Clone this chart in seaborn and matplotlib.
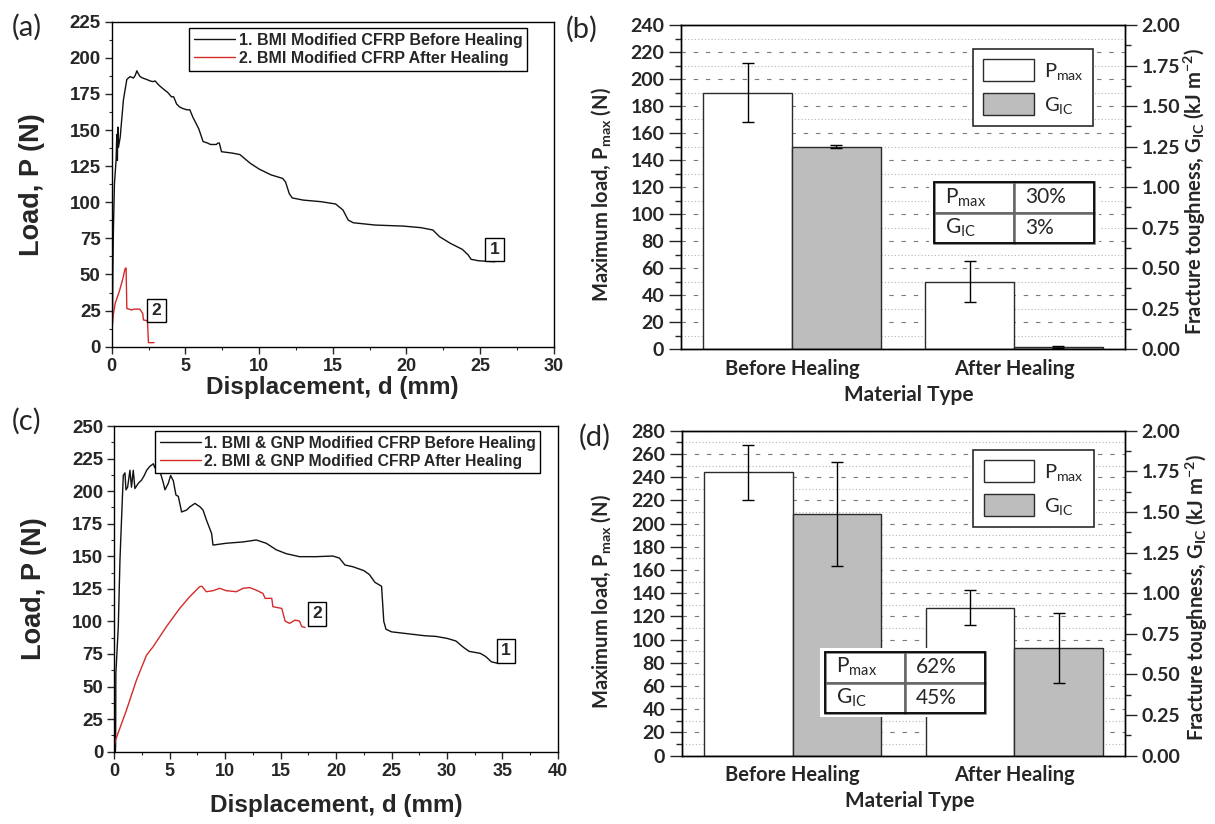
import numpy as np
import pandas as pd
import matplotlib
matplotlib.use("Agg")
import matplotlib.pyplot as plt
import seaborn as sns
from matplotlib.ticker import MultipleLocator, FormatStrFormatter
from matplotlib.patches import Rectangle, Patch
from matplotlib.font_manager import FontProperties

# ---------------- data ----------------
# (a) BMI modified CFRP, load-displacement (d [mm], P [N])
a_before = [(0, 0), (0.05, 20), (0.07, 51), (0.11, 81), (0.18, 113), (0.29, 129), (0.34, 147),
            (0.38, 129), (0.41, 152), (0.45, 138), (0.57, 145), (0.79, 171), (1.02, 185),
            (1.24, 187), (1.47, 186), (1.6, 188), (1.7, 191), (1.8, 189), (1.92, 187), (2.1, 186),
            (2.37, 185), (2.6, 184), (2.8, 183.5), (2.94, 184), (3.2, 181), (3.55, 178), (3.8, 176),
            (4.05, 173), (4.2, 173), (4.4, 168), (4.6, 166), (4.8, 165), (5.1, 164), (5.3, 164),
            (5.5, 159), (5.9, 151), (6.2, 142), (6.5, 141), (6.7, 140), (7.1, 140), (7.2, 141),
            (7.3, 141), (7.45, 135), (8.2, 134), (8.7, 133), (9.4, 127), (10.0, 123), (10.8, 119),
            (11.6, 116.5), (11.8, 114), (12.05, 106), (12.25, 103), (13.0, 101.5), (14.2, 100.4),
            (15.2, 98.8), (15.7, 94.6), (16.05, 87.7), (16.4, 85.8), (17.9, 84.2), (19.8, 83.5),
            (21.0, 82.4), (21.8, 80.8), (22.25, 76.2), (23.0, 71.5), (23.8, 67.4), (24.2, 63.5),
            (24.4, 60.5), (24.9, 59.5), (26.0, 58.8)]
a_after = [(0, 11.5), (0.1, 22), (0.23, 30), (0.5, 38), (0.75, 47), (0.9, 54), (0.97, 54.5),
           (1.02, 26.5), (1.36, 25.4), (1.5, 26), (1.9, 26), (2.1, 23), (2.15, 18.5), (2.42, 18),
           (2.49, 2.8), (2.87, 2.8)]
a_labels = ["1. BMI Modified CFRP Before Healing", "2. BMI Modified CFRP After Healing"]

# (c) BMI & GNP modified CFRP
c_before = [(0, 0), (0.1, 0), (0.12, 5), (0.14, 60), (0.36, 96), (0.51, 147), (0.66, 180),
            (0.81, 212), (0.96, 214), (1.05, 201), (1.2, 203), (1.41, 216), (1.55, 203),
            (1.71, 216), (1.86, 202), (2.16, 206), (2.46, 208.5), (2.7, 212), (2.92, 216),
            (3.2, 219), (3.52, 221), (3.65, 218), (3.8, 222), (4.12, 215), (4.4, 207), (4.57, 201),
            (4.87, 206), (5.08, 212), (5.32, 208), (5.56, 197), (5.77, 196), (6.07, 184),
            (6.52, 185.5), (6.82, 188), (7.27, 190.6), (7.72, 188), (8.0, 185.5), (8.3, 178),
            (8.77, 167.6), (8.9, 158.6), (10.1, 160), (11.6, 161), (12.8, 162.5), (13.7, 160),
            (14.6, 155), (15.5, 152), (16.7, 149.7), (18.2, 149.7), (19.7, 150.2), (20.3, 148.6),
            (20.8, 143.3), (21.5, 142), (22.5, 139), (23.0, 136), (23.5, 130), (24.1, 127),
            (24.3, 100), (24.5, 94), (25.0, 92), (26.0, 91), (28.0, 89), (29.0, 88.5), (30.0, 87),
            (30.8, 85), (31.5, 80), (32.0, 77), (33.0, 75.5), (33.5, 73), (34.0, 69), (34.5, 68),
            (35.0, 68)]
c_after = [(0, 4), (0.06, 7.7), (1.1, 32), (2.0, 55), (2.9, 74), (3.5, 80.6), (4.7, 96),
           (5.9, 110), (6.8, 119), (7.7, 126.7), (7.9, 127), (8.3, 122.8), (8.9, 123.6),
           (9.5, 125.4), (10.1, 123.6), (11.0, 122.8), (11.6, 125.4), (12.2, 126), (12.8, 124),
           (13.4, 121.5), (13.6, 117.7), (14.2, 117.7), (14.3, 111.3), (15.1, 110), (15.4, 100.3),
           (15.8, 98.5), (16.3, 101), (16.7, 100.3), (16.9, 96), (17.2, 95.4)]
c_labels = ["1. BMI & GNP Modified CFRP Before Healing", "2. BMI & GNP Modified CFRP After Healing"]

# bar charts
categories = ["Before Healing", "After Healing"]
b_pmax = [190, 50]
b_pmax_err = [21.5, 15.3]
b_gic = [1.25, 0.015]
b_gic_err = [0.01, 0.006]
b_recovery = ["30%", "3%"]

d_pmax = [244, 127.5]
d_pmax_err = [24, 15]
d_gic = [1.49, 0.665]
d_gic_err = [0.32, 0.215]
d_recovery = ["62%", "45%"]

# ---------------- style ----------------
sns.set_style("ticks")
plt.rcParams["font.family"] = ["Liberation Sans", "DejaVu Sans"]
plt.rcParams["mathtext.default"] = "regular"
plt.rcParams["axes.edgecolor"] = "black"
plt.rcParams["axes.linewidth"] = 1.0

W, H = 1215, 824
fig = plt.figure(figsize=(W / 100, H / 100), dpi=100)


def rect_px(left, top, right, bottom):
    return [left / W, 1 - bottom / H, (right - left) / W, (bottom - top) / H]


BLACK = "#111111"
RED = "#d42a2a"


def line_panel(rect, before, after, labels, xmax, ymax, ystep, box1, box2,
               leg_anchor, leg_fs, xlabel_y, ylabel_x):
    ax = fig.add_axes(rect)
    df = pd.concat([
        pd.DataFrame(before, columns=["d", "P"]).assign(series=labels[0]),
        pd.DataFrame(after, columns=["d", "P"]).assign(series=labels[1]),
    ], ignore_index=True)
    sns.lineplot(data=df, x="d", y="P", hue="series", hue_order=labels,
                 palette=[BLACK, RED], sort=False, estimator=None,
                 linewidth=1.0, legend=False, ax=ax)
    ax.set_xlim(0, xmax)
    ax.set_ylim(0, ymax)
    xt = np.arange(0, xmax + 0.1, 5)
    yt = np.arange(0, ymax + 0.1, ystep)
    ax.set_xticks(xt)
    ax.set_xticklabels([str(int(v)) for v in xt], fontweight="bold", fontsize=13)
    ax.set_yticks(yt)
    ax.set_yticklabels([str(int(v)) for v in yt], fontweight="bold", fontsize=13.5)
    ax.xaxis.set_minor_locator(MultipleLocator(2.5))
    ax.yaxis.set_minor_locator(MultipleLocator(ystep / 2))
    ax.tick_params(which="major", direction="out", length=5, width=1, pad=3)
    ax.tick_params(which="minor", direction="out", length=2.5, width=0.8)
    for s in ax.spines.values():
        s.set_visible(True)
        s.set_linewidth(1.0)
    ax.set_xlabel("Displacement, d (mm)", fontweight="bold", fontsize=17.5)
    ax.set_ylabel("Load, P (N)", fontweight="bold", fontsize=19.5)
    ax.xaxis.label.set_va("center")
    ax.yaxis.label.set_va("center")
    ax.xaxis.set_label_coords(0.5, xlabel_y)
    ax.yaxis.set_label_coords(ylabel_x, 0.5)
    leg = ax.legend(ax.lines[:2], labels, loc="upper left", bbox_to_anchor=leg_anchor,
                    frameon=True, fancybox=False, edgecolor="black", framealpha=1,
                    borderaxespad=0, prop=FontProperties(family="Liberation Sans",
                                                         weight="bold", size=leg_fs),
                    handlelength=2.6, handletextpad=0.2, borderpad=0.3, labelspacing=0.2)
    leg.get_frame().set_linewidth(1.0)
    for (x, y, t) in (box1 + ("1",), box2 + ("2",)):
        ax.text(x, y, t, ha="center", va="center", fontsize=12.5, fontweight="bold",
                bbox=dict(boxstyle="square,pad=0.25", fc="white", ec="black", lw=1.0))
    return ax


def bar_panel(rect, pmax, pmax_err, gic, gic_err, recovery, ymax, leg_anchor,
              table_box, label_xy):
    ax = fig.add_axes(rect)
    scale = ymax / 2.0  # right axis spans 0..2 kJ/m^2 on the same height
    df = pd.DataFrame({
        "Material": categories * 2,
        "Quantity": ["Pmax"] * 2 + ["GIC"] * 2,
        "Value": list(pmax) + [g * scale for g in gic],
    })
    sns.barplot(data=df, x="Material", y="Value", hue="Quantity", hue_order=["Pmax", "GIC"],
                order=categories, palette={"Pmax": "white", "GIC": "#bdbdbd"}, saturation=1,
                edgecolor="#2b2b2b", linewidth=1.0, width=0.8, errorbar=None, legend=False,
                ax=ax)
    bars = sorted(ax.patches, key=lambda p: p.get_x())
    errs = [pmax_err[0], gic_err[0] * scale, pmax_err[1], gic_err[1] * scale]
    for p, e in zip(bars, errs):
        ax.errorbar(p.get_x() + p.get_width() / 2, p.get_height(), yerr=e, fmt="none",
                    ecolor="black", elinewidth=1.0, capsize=4, capthick=1.0, zorder=5)
    ax.set_xlim(-0.5, 1.5)
    ax.set_ylim(0, ymax)
    ax.yaxis.set_major_locator(MultipleLocator(20))
    ax.yaxis.set_minor_locator(MultipleLocator(10))
    ax.set_axisbelow(True)
    ax.grid(which="major", axis="y", linestyle=(0, (4, 7)), color="#7a7a7a", linewidth=0.8)
    ax.grid(which="minor", axis="y", linestyle=(0, (1, 2)), color="#b5b5b5", linewidth=0.8)
    ax.grid(which="both", axis="x", visible=False)
    ax.tick_params(axis="y", which="major", direction="out", length=8.5, width=1, labelsize=14)
    ax.tick_params(axis="y", which="minor", direction="out", length=4.3, width=1)
    ax.tick_params(axis="x", length=0, labelsize=14.5, pad=7)
    for lab in ax.get_yticklabels() + ax.get_xticklabels():
        lab.set_fontfamily("Lato")
        lab.set_fontweight("bold")
    for s in ax.spines.values():
        s.set_visible(True)
        s.set_linewidth(1.0)
    ax.set_xlabel("Material Type", fontfamily="Lato", fontweight="bold", fontsize=15)
    ax.set_ylabel(r"Maximum load, P$_{\mathregular{max}}$ (N)", fontfamily="Lato",
                  fontweight="bold", fontsize=14.5)
    ax.xaxis.label.set_va("center")
    ax.yaxis.label.set_va("center")
    ax.xaxis.set_label_coords(0.514, label_xy[0])
    ax.yaxis.set_label_coords(label_xy[1], 0.475)

    ax2 = ax.twinx()
    ax2.set_ylim(0, 2.0)
    ax2.yaxis.set_major_locator(MultipleLocator(0.25))
    ax2.yaxis.set_minor_locator(MultipleLocator(0.125))
    ax2.yaxis.set_major_formatter(FormatStrFormatter("%.2f"))
    ax2.tick_params(axis="y", which="major", direction="out", length=8.5, width=1, labelsize=14)
    ax2.tick_params(axis="y", which="minor", direction="out", length=4.3, width=1)
    ax2.grid(False)
    for lab in ax2.get_yticklabels():
        lab.set_fontfamily("Lato")
        lab.set_fontweight("bold")
    ax2.set_ylabel(r"Fracture toughness, G$_{\mathregular{IC}}$ (kJ m$^{\mathregular{-2}}$)",
                   fontfamily="Lato", fontweight="bold", fontsize=14.5, rotation=90)
    ax2.yaxis.label.set_va("center")
    ax2.yaxis.label.set_ha("center")
    ax2.yaxis.set_label_coords(label_xy[2], 0.485)

    handles = [Patch(facecolor="white", edgecolor="#2b2b2b", linewidth=1.0),
               Patch(facecolor="#bdbdbd", edgecolor="#2b2b2b", linewidth=1.0)]
    leg = ax.legend(handles, [r"P$_{\mathregular{max}}$", r"G$_{\mathregular{IC}}$"],
                    loc="upper left", bbox_to_anchor=leg_anchor, frameon=True, fancybox=False,
                    edgecolor="#2b2b2b", framealpha=1, borderaxespad=0,
                    prop=FontProperties(family="Lato", size=14.5),
                    handlelength=2.5, handleheight=1.3, handletextpad=0.5,
                    borderpad=0.5, labelspacing=0.55)
    leg.get_frame().set_linewidth(1.2)
    leg.set_zorder(20)

    x0, y0, w, h = table_box
    ax.add_patch(Rectangle((x0 - 0.012, y0 - 0.012), w + 0.024, h + 0.024,
                           transform=ax.transAxes, facecolor="white", edgecolor="none",
                           zorder=9))
    rows = [[r"P$_{\mathregular{max}}$", recovery[0]], [r"G$_{\mathregular{IC}}$", recovery[1]]]
    tbl = ax.table(cellText=rows, cellLoc="left", bbox=[x0, y0, w, h], zorder=10)
    tbl.auto_set_font_size(False)
    for (r, c), cell in tbl.get_celld().items():
        cell.set_edgecolor("#666666")
        cell.set_linewidth(1.8)
        cell.set_facecolor("white")
        cell.PAD = 0.14
        cell.get_text().set_fontsize(15)
        cell.get_text().set_fontfamily("Lato")
    ax.add_patch(Rectangle((x0, y0), w, h, transform=ax.transAxes, fill=False,
                           edgecolor="black", linewidth=1.2, zorder=11))
    return ax


# (a)
line_panel(rect_px(111.8, 21.7, 553.6, 346.7), a_before, a_after, a_labels, 30, 225, 25,
           (26.0, 67.3), (3.03, 25.1), (0.175, 0.981), 11.5, -0.125, -0.18)
# (c)
line_panel(rect_px(114.3, 426, 557.9, 751.7), c_before, c_after, c_labels, 40, 250, 25,
           (35.3, 77.3), (18.3, 105.7), (0.092, 0.985), 11.3, -0.166, -0.182)
# (b)
bar_panel(rect_px(681, 25, 1125, 349), b_pmax, b_pmax_err, b_gic, b_gic_err, b_recovery, 240,
          (0.658, 0.926), (0.570, 0.327, 0.360, 0.188), (-0.142, -0.18, 1.158))
# (d)
bar_panel(rect_px(682, 430.7, 1125, 755.7), d_pmax, d_pmax_err, d_gic, d_gic_err, d_recovery, 280,
          (0.658, 0.94), (0.323, 0.131, 0.361, 0.188), (-0.139, -0.183, 1.163))

for x, y, t in [(12, 14, "(a)"), (566, 16, "(b)"), (12, 408, "(c)"), (579, 424, "(d)")]:
    fig.text(x / W, 1 - y / H, t, fontfamily="Lato", fontsize=21, ha="left", va="top")

fig.savefig("out.png", dpi=100)
